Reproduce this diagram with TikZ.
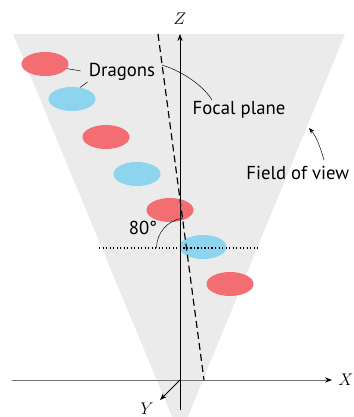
\documentclass[tikz,border=0pt]{standalone}
\usepackage{fontspec}
\setmainfont{PT Sans}
\usetikzlibrary{arrows.meta,shapes.geometric,calc}
\definecolor{dragred}{HTML}{F26E73}
\definecolor{dragblue}{HTML}{8DD4EE}
\definecolor{fovgray}{HTML}{EBEBEB}
\tikzset{
  drg/.style  = {ellipse, minimum width=1.41cm, minimum height=0.72cm,
                 inner sep=0pt},
  drgr/.style = {drg, fill=dragred},
  drgb/.style = {drg, fill=dragblue},
  ax/.style   = {line width=0.7pt},
  ldr/.style  = {line width=0.4pt},
  lbl/.style  = {font=\fontsize{16}{18}\selectfont, inner sep=1pt},
  axl/.style  = {font=\fontsize{15}{18}\selectfont, inner sep=1pt},
}

\begin{document}
\begin{tikzpicture}[x=0.03cm, y=-0.03cm]
  \clip (0,0) rectangle (353,417);
  % field of view
  \fill[fovgray] (13,34) -- (345,34) -- (180,436) -- cycle;
  % dragons
  \node[drgr] (e1) at (45,64)  {};
  \node[drgb] (e2) at (72,99)  {};
  \node[drgr] (e3) at (106,137) {};
  \node[drgb] (e4) at (137,174) {};
  \node[drgr] (e5) at (170,210) {};
  \node[drgb] (e6) at (203,247) {};
  \node[drgr] (e7) at (230,284) {};
  % axes
  \coordinate (o)  at (180,380);
  \coordinate (xs) at (12,380);
  \coordinate (xe) at (332,380);
  \coordinate (zs) at (180,410);
  \coordinate (ze) at (180,34);
  \coordinate (ye) at (160,400);
  \node[axl] (xl) at (346,380) {$X$};
  \node[axl] (zl) at (180,19)  {$Z$};
  \node[axl] (yl) at (147,409) {$Y$};
  \draw[ax, draw=black!55, -{Stealth[black, length=6pt]}] (xs) -- (xe);
  \draw[ax, -{Stealth[length=6pt]}] (zs) -- (ze);
  \draw[ax, -{Stealth[length=6pt]}] (o) -- (ye);
  % focal plane and horizon
  \coordinate (fp1) at (158,34);
  \coordinate (fp2) at (204,380);
  \draw[line width=1pt, dash pattern=on 6pt off 3.5pt] (fp1) -- (fp2);
  \coordinate (h1) at (99,248);
  \coordinate (h2) at (259,248);
  \draw[line width=1pt, dotted] (h1) -- (h2);
  \draw[ldr] (156.5,248) arc[start angle=180, end angle=262, radius=30];
  \node[lbl] (ang) at (143,228) {80°};
  % labels
  \node[lbl] (drag)  at (122,72)  {Dragons};
  \node[lbl] (focal) at (239,110) {Focal plane};
  \node[lbl, anchor=west] (field) at (245,173) {Field of view};
  \draw[ldr, shorten >=6pt] (e1.-12) -- (drag.west);
  \draw[ldr] (e2.55) -- (drag.south west);
  \coordinate (fpa) at ($(fp1)!0.09!(fp2)$);
  \coordinate (fpb) at (212,100);
  \draw[ldr] (fpa) .. controls (185,72) and (205,88) .. (fpb);
  \coordinate (fva) at (309,128);
  \coordinate (fvt) at (324,160);
  \draw[ldr, -{Stealth[length=5pt]}] (fvt) .. controls (320,146) and (316,136) .. (fva);
\end{tikzpicture}
\end{document}
